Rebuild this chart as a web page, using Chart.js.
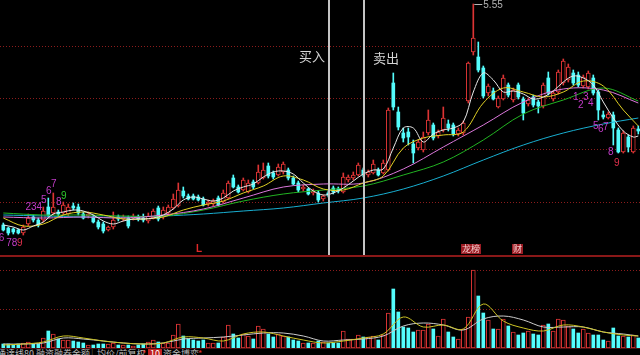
<!DOCTYPE html>
<html>
<head>
<meta charset="utf-8">
<script src="https://cdn.jsdelivr.net/npm/chart.js"></script>
<style>
  html, body { margin: 0; padding: 0; background: #000; }
  #wrap { position: relative; width: 640px; height: 355px; overflow: hidden; background: #000; }
  #kline { position: absolute; left: 0; top: 0; }
  #vol { position: absolute; left: 0; top: 257px; }
  #sep { position: absolute; left: 0; top: 255px; width: 640px; height: 2px; background: #8a1818; }
  #sep2 { position: absolute; left: 0; top: 348px; width: 640px; height: 1px; background: #4a1010; }
  #tabs { position: absolute; left: 0; top: 349px; width: 640px; height: 6px; overflow: hidden;
          font: 9px "Noto Sans CJK SC", sans-serif; color: #bdbdbd; }
  #tabs span { position: absolute; top: 0; line-height: 9px; white-space: nowrap; }
  #tabs .bar { color: #555; }
  #tabs .star { color: #e03030; }
  #tabs .badge { background: #c02020; color: #fff; padding: 0 2px; }
</style>
</head>
<body>
<div id="wrap">
  <canvas id="kline" width="640" height="255"></canvas>
  <div id="sep"></div>
  <canvas id="vol" width="640" height="91"></canvas>
  <div id="sep2"></div>
  <div id="tabs">
    <span style="left:-3px">通達线80</span>
    <span class="bar" style="left:31px">|</span>
    <span style="left:36px">融资融券余额</span>
    <span class="bar" style="left:91px">|</span>
    <span style="left:97px">均价/前复权</span>
    <span class="star" style="left:142px">*</span>
    <span class="badge" style="left:148px">10</span>
    <span style="left:163px">资金博弈</span>
    <span class="star" style="left:198px">*</span>
  </div>
</div>
<script>
// 日K数据（价格），从左到右
const opens = [4.445,4.43,4.425,4.42,4.405,4.45,4.485,4.47,4.47,4.535,
  4.505,4.51,4.505,4.50,4.54,4.535,4.50,4.49,4.485,4.46,
  4.45,4.42,4.435,4.485,4.475,4.48,4.48,4.485,4.48,4.465,
  4.48,4.53,4.485,4.505,4.53,4.54,4.615,4.59,4.59,4.585,
  4.575,4.55,4.55,4.58,4.56,4.58,4.68,4.635,4.62,4.61,
  4.66,4.655,4.68,4.74,4.705,4.695,4.71,4.72,4.68,4.655,
  4.625,4.625,4.605,4.605,4.575,4.605,4.63,4.625,4.61,4.67,
  4.68,4.695,4.72,4.695,4.705,4.72,4.705,4.72,5.155,5.01,
  4.905,4.91,4.85,4.83,4.82,4.905,4.945,4.89,4.92,4.95,
  4.945,4.90,4.905,5.065,5.31,5.285,5.23,5.105,5.115,5.035,
  5.075,5.145,5.07,5.145,5.075,5.05,5.085,5.06,5.04,5.18,
  5.075,5.11,5.155,5.17,5.205,5.195,5.14,5.135,5.18,5.11,
  4.995,4.98,4.995,4.92,4.81,4.885,4.81,4.925];
const highs = [4.455,4.435,4.43,4.425,4.445,4.50,4.495,4.48,4.535,4.58,
  4.605,4.52,4.56,4.55,4.555,4.55,4.51,4.51,4.495,4.47,
  4.46,4.44,4.51,4.495,4.495,4.49,4.50,4.495,4.50,4.505,
  4.525,4.54,4.535,4.545,4.60,4.655,4.635,4.60,4.60,4.595,
  4.585,4.57,4.575,4.59,4.62,4.665,4.695,4.645,4.68,4.67,
  4.67,4.745,4.755,4.755,4.715,4.75,4.76,4.73,4.69,4.665,
  4.645,4.63,4.625,4.615,4.595,4.615,4.64,4.635,4.705,4.695,
  4.71,4.755,4.73,4.72,4.77,4.73,4.77,5.03,5.205,5.035,
  4.93,4.93,4.87,4.87,4.91,5.02,4.955,4.92,5.035,4.97,
  4.955,4.93,4.965,5.26,5.55,5.36,5.24,5.15,5.13,5.09,
  5.195,5.155,5.13,5.155,5.085,5.08,5.095,5.07,5.155,5.21,
  5.115,5.22,5.275,5.25,5.22,5.21,5.195,5.215,5.195,5.12,
  5.015,5.01,5.01,4.93,4.915,4.895,4.94,4.94];
const lows = [4.415,4.395,4.40,4.40,4.395,4.44,4.46,4.435,4.46,4.485,
  4.495,4.49,4.495,4.49,4.52,4.495,4.475,4.48,4.455,4.425,
  4.405,4.415,4.425,4.465,4.465,4.43,4.47,4.465,4.46,4.455,
  4.475,4.465,4.475,4.495,4.525,4.535,4.58,4.57,4.57,4.565,
  4.54,4.54,4.54,4.54,4.555,4.575,4.63,4.605,4.615,4.605,
  4.625,4.65,4.675,4.68,4.675,4.69,4.70,4.67,4.645,4.61,
  4.615,4.595,4.595,4.56,4.565,4.585,4.60,4.605,4.605,4.66,
  4.67,4.69,4.685,4.685,4.70,4.69,4.70,4.715,5.02,4.92,
  4.86,4.845,4.755,4.82,4.81,4.895,4.87,4.88,4.91,4.915,
  4.89,4.89,4.895,5.055,5.295,5.21,5.08,5.09,5.07,5.03,
  5.07,5.085,5.06,5.075,4.97,5.04,5.035,5.005,5.03,5.095,
  5.065,5.10,5.145,5.16,5.145,5.135,5.13,5.125,5.095,4.97,
  4.975,4.975,4.845,4.805,4.805,4.81,4.805,4.90];
const closes = [4.42,4.405,4.41,4.405,4.435,4.48,4.47,4.445,4.515,4.495,
  4.535,4.50,4.545,4.535,4.53,4.505,4.48,4.50,4.46,4.435,
  4.415,4.435,4.47,4.475,4.485,4.44,4.49,4.475,4.47,4.49,
  4.515,4.475,4.52,4.535,4.575,4.62,4.59,4.575,4.575,4.57,
  4.545,4.56,4.565,4.545,4.605,4.655,4.635,4.61,4.67,4.655,
  4.635,4.71,4.72,4.69,4.685,4.735,4.75,4.68,4.65,4.62,
  4.635,4.60,4.615,4.57,4.59,4.595,4.61,4.615,4.685,4.685,
  4.695,4.745,4.695,4.71,4.75,4.695,4.755,5.02,5.035,4.935,
  4.88,4.885,4.805,4.86,4.885,4.97,4.88,4.91,4.98,4.93,
  4.90,4.92,4.955,5.255,5.38,5.22,5.09,5.14,5.075,5.08,
  5.18,5.095,5.12,5.085,5.005,5.07,5.045,5.04,5.145,5.105,
  5.105,5.21,5.265,5.235,5.155,5.145,5.185,5.205,5.105,5.02,
  4.985,5.00,4.93,4.81,4.905,4.835,4.93,4.915];

// 成交量（万手）
const volume = [4,4,3,4,5,6,4,4,10,17,
  14,9,8,8,7,6,5,3,3,4,
  4,4,5,3,3,3,2,3,4,6,
  8,6,5,5,13,24,12,9,8,7,
  8,5,5,5,11,23,14,10,14,12,
  9,22,19,14,11,14,12,11,8,7,
  5,5,5,7,6,5,5,5,17,9,
  9,13,11,11,12,8,13,35,59,36,
  21,20,16,18,18,24,19,12,29,16,
  11,9,19,31,78,52,35,28,19,19,
  29,22,16,13,15,17,14,13,23,24,
  17,29,28,22,19,15,19,15,13,13,
  8,7,20,12,12,11,13,10];

// 均线读数（每隔几根K线读一次）
const ma5 = [4.445,4.435,4.42,4.44,4.46,4.50,4.51,4.52,4.515,4.495,
  4.465,4.45,4.465,4.475,4.475,4.48,4.495,4.525,4.57,4.585,
  4.575,4.565,4.58,4.615,4.635,4.65,4.685,4.71,4.715,4.70,
  4.655,4.615,4.595,4.605,4.63,4.665,4.70,4.72,4.725,4.83,
  4.93,4.93,4.86,4.90,4.92,4.93,4.96,5.11,5.205,5.17,
  5.11,5.115,5.10,5.075,5.085,5.115,5.16,5.19,5.18,5.145,
  5.06,4.98,4.915,4.885,4.89];
const ma10 = [4.48,4.44,4.45,4.495,4.51,4.495,4.475,4.475,4.485,4.52,
  4.545,4.565,4.605,4.64,4.69,4.67,4.625,4.62,4.655,4.69,
  4.83,4.88,4.895,4.91,5.055,5.13,5.11,5.085,5.11,5.165,
  5.14,5.02,4.94];
const ma20 = [4.485,4.48,4.485,4.48,4.495,4.525,4.58,4.635,4.65,4.655,
  4.725,4.835,4.945,5.06,5.125,5.12,5.055];
const ma30 = [4.505,4.495,4.495,4.49,4.49,4.52,4.565,4.60,4.62,4.64,
  4.695,4.76,4.87,5.00,5.07,5.13,5.065];
const ma60 = [4.495,4.49,4.485,4.485,4.49,4.50,4.515,4.53,4.555,4.58,
  4.625,4.69,4.77,4.845,4.905,4.95,4.98];
const volMa5 = [3,4,6,12,10,7,5,4,5,11,
  10,7,14,16,12,8,5,7,10,14,
  31,21,23,19,44,27,20,17,23,21,
  16,13,12];
const volMa10 = [4,4,5,10,9,7,5,4,5,9,
  10,11,13,15,15,12,7,8,9,12,
  22,25,23,18,29,32,28,21,21,21,
  16,14,12];

// 价格网格、量网格
const priceGrid = [4.56, 4.82, 5.08, 5.34];
const volGrid = [39, 78];

// 标注
const buyAt = 65.15, sellAt = 72.15;
const tdText  = ['56', '78', '9', '234', '5', '6', '7', '8', '9', '1', '2', '3', '4', '5', '6', '7', '8', '9'];
const tdAt    = [-0.9, 1.7, 3.3, 6.1, 8.1, 9.1, 10.1, 11.1, 12.1, 114.5, 115.5, 116.5, 117.5, 118.5, 119.5, 120.5, 121.5, 122.7];
const tdPrice = [4.38, 4.355, 4.355, 4.535, 4.57, 4.615, 4.65, 4.56, 4.59, 5.085, 5.045, 5.085, 5.055, 4.94, 4.925, 4.935, 4.81, 4.755];
const tdTone  = ['m', 'm', 'r', 'm', 'm', 'm', 'm', 'm', 'g', 'm', 'm', 'm', 'm', 'm', 'm', 'm', 'm', 'r'];
const markText = ['L', '龙榜', '财'];
const markAt = [39.15, 93.55, 102.85];

const RED = '#dc3434';
const CYAN = '#54fcfc';
const GRID = '#8c1c1c';
const TONES = { m: '#c23cc8', r: '#e0304c', g: '#2ec82e' };
const X_MIN = -0.66, X_MAX = 127.34;

const idx = opens.map((_, i) => i);
const isUp = i => closes[i] >= opens[i];
const steps = n => Array.from({ length: Math.floor(127 / n) + 1 }, (_, k) => k * n).concat(127);
const pts = (at, vals) => vals.map((v, k) => ({ x: at[k], y: v }));

function maLine(at, vals, color) {
    return {
        type: 'line', data: pts(at, vals), borderColor: color, borderWidth: 1,
        pointRadius: 0, tension: 0.35, fill: false, order: 0
    };
}

const overlay = {
    id: 'overlay',
    afterDatasetsDraw(chart) {
        const { ctx, chartArea: a, scales: { x, y } } = chart;
        ctx.save();

        // 买入 / 卖出 竖线
        ctx.strokeStyle = '#c4c4c4';
        ctx.lineWidth = 2;
        [buyAt, sellAt].forEach(v => {
            const px = Math.round(x.getPixelForValue(v));
            ctx.beginPath();
            ctx.moveTo(px, a.top);
            ctx.lineTo(px, a.bottom);
            ctx.stroke();
        });
        ctx.fillStyle = '#d4d4d4';
        ctx.font = '13px "Noto Sans CJK SC", sans-serif';
        ctx.textBaseline = 'middle';
        ctx.textAlign = 'right';
        ctx.fillText('买入', x.getPixelForValue(buyAt) - 4, y.getPixelForValue(5.29));
        ctx.textAlign = 'left';
        ctx.fillText('卖出', x.getPixelForValue(sellAt) + 9, y.getPixelForValue(5.28));

        // 最高价标记
        let top = 0;
        highs.forEach((h, i) => { if (h > highs[top]) top = i; });
        const hx = x.getPixelForValue(top), hy = Math.round(y.getPixelForValue(highs[top])) + 0.5;
        ctx.strokeStyle = '#b4b4b4';
        ctx.lineWidth = 1;
        ctx.beginPath();
        ctx.moveTo(hx + 1, hy);
        ctx.lineTo(hx + 9, hy);
        ctx.stroke();
        ctx.fillStyle = '#b4b4b4';
        ctx.font = '10px "Liberation Sans", sans-serif';
        ctx.fillText(highs[top].toFixed(2), hx + 10, hy + 1);

        // 九转序列数字
        ctx.font = '10px "Liberation Sans", sans-serif';
        ctx.textAlign = 'center';
        tdText.forEach((t, k) => {
            ctx.fillStyle = TONES[tdTone[k]];
            ctx.fillText(t, x.getPixelForValue(tdAt[k]), y.getPixelForValue(tdPrice[k]));
        });

        // 底部事件标记
        const my = a.bottom - 6;
        markText.forEach((t, k) => {
            const mx = x.getPixelForValue(markAt[k]);
            if (t === 'L') {
                ctx.fillStyle = '#e02828';
                ctx.font = 'bold 10px "Liberation Sans", sans-serif';
                ctx.fillText(t, mx, my);
                return;
            }
            ctx.font = '9px "Noto Sans CJK SC", sans-serif';
            const w = ctx.measureText(t).width + 2;
            ctx.fillStyle = '#9c1c24';
            ctx.fillRect(Math.round(mx - w / 2), my - 5, Math.round(w), 10);
            ctx.fillStyle = '#f4d0d0';
            ctx.fillText(t, mx, my);
        });
        ctx.restore();
    }
};

const hiddenX = { type: 'linear', min: X_MIN, max: X_MAX, offset: false, display: false };

function gridY(min, max, lines) {
    return {
        min: min, max: max,
        ticks: { display: false },
        grid: { color: GRID, lineWidth: 1, drawTicks: false },
        border: { display: false, dash: [1, 2] },
        afterBuildTicks: s => { s.ticks = lines.map(v => ({ value: v })); },
        afterFit: s => { s.width = 0; }
    };
}

const baseOptions = (yScale) => ({
    responsive: false,
    animation: false,
    devicePixelRatio: 1,
    layout: { padding: 0 },
    plugins: { legend: { display: false }, tooltip: { enabled: false } },
    scales: { x: hiddenX, y: yScale }
});

// K线图
new Chart(document.getElementById('kline'), {
    type: 'bar',
    data: {
        datasets: [
            maLine(steps(2), ma5, '#e8e8e8'),
            maLine(steps(4), ma10, '#e0d024'),
            maLine(steps(8), ma20, '#dc78dc'),
            maLine(steps(8), ma30, '#22b422'),
            maLine(steps(8), ma60, '#18aed0'),
            {
                data: idx.filter(isUp).map(i => ({ x: i, y: [opens[i], closes[i]] })),
                backgroundColor: '#000', borderColor: RED, borderWidth: 1, borderSkipped: false,
                barThickness: 4, grouped: false, order: 5
            },
            {
                data: idx.filter(i => !isUp(i)).map(i => ({ x: i, y: [closes[i], opens[i]] })),
                backgroundColor: CYAN, borderWidth: 0,
                barThickness: 3, grouped: false, order: 5
            },
            {
                data: idx.map(i => ({ x: i, y: [lows[i], highs[i]] })),
                backgroundColor: idx.map(i => isUp(i) ? RED : CYAN), borderWidth: 0,
                barThickness: 1, grouped: false, order: 6
            }
        ]
    },
    options: baseOptions(gridY(4.295, 5.57, priceGrid)),
    plugins: [overlay]
});

// 成交量
new Chart(document.getElementById('vol'), {
    type: 'bar',
    data: {
        datasets: [
            maLine(steps(4), volMa5, '#ccc424'),
            maLine(steps(4), volMa10, '#cccccc'),
            {
                data: idx.filter(isUp).map(i => ({ x: i, y: volume[i] })),
                backgroundColor: '#000', borderColor: RED, borderWidth: 1, borderSkipped: false,
                barThickness: 4, grouped: false, order: 5
            },
            {
                data: idx.filter(i => !isUp(i)).map(i => ({ x: i, y: volume[i] })),
                backgroundColor: CYAN, borderWidth: 0,
                barThickness: 3, grouped: false, order: 5
            }
        ]
    },
    options: baseOptions(gridY(0, 91, volGrid))
});
</script>
</body>
</html>
